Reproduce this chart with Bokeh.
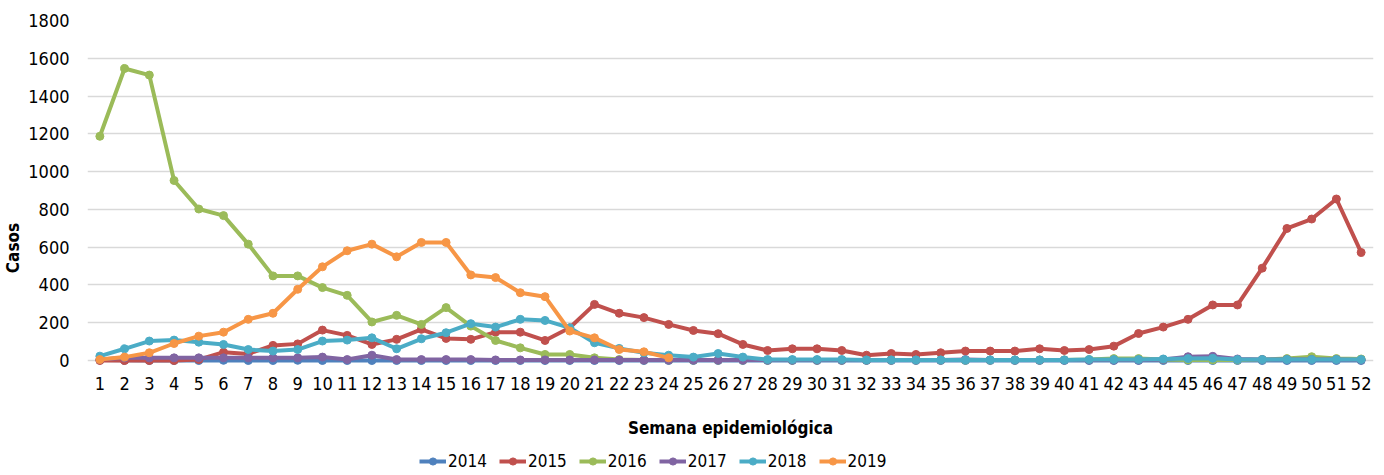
from bokeh.plotting import figure
from bokeh.models import Legend, LegendItem, FixedTicker, Range1d
from bokeh.embed import file_html
from bokeh.resources import INLINE

weeks = list(range(1, 53))

y2014 = [2, 1, 0, 0, 0, 1, 0, 0, 1, 0, 0, 0, 0, 0, 0, 0, 0, 0, 0, 0, 0, 0, 0, 0, 0, 0,
         0, 0, 0, 0, 0, 0, 0, 0, 0, 0, 0, 0, 0, 0, 0, 0, 0, 0, 0, 0, 0, 0, 0, 0, 0, 0]
y2015 = [0, 0, 0, 0, 5, 44, 35, 80, 88, 161, 133, 85, 112, 165, 117, 112, 150, 150, 106, 173,
         297, 250, 227, 191, 159, 142, 85, 53, 62, 62, 53, 28, 37, 32, 41, 50, 50, 50, 62, 53,
         58, 76, 143, 177, 218, 294, 294, 489, 699, 749, 855, 572]
y2016 = [1187, 1546, 1511, 953, 802, 767, 616, 448, 448, 386, 345, 204, 239, 191, 280, 182,
         106, 67, 32, 32, 14, 5, 3, 3, 2, 2, 2, 2, 2, 2, 2, 2, 2, 2, 2, 2, 2, 2, 2, 3,
         5, 10, 10, 5, 3, 3, 3, 5, 10, 20, 10, 8]
y2017 = [5, 14, 14, 14, 14, 14, 14, 14, 14, 18, 5, 28, 5, 5, 5, 5, 3, 3, 3, 3, 3, 2, 2, 2, 2, 2,
         2, 2, 2, 2, 2, 2, 2, 2, 2, 5, 3, 2, 2, 2, 2, 2, 2, 5, 20, 22, 8, 5, 5, 5, 5, 3]
y2018 = [23, 62, 103, 108, 97, 85, 58, 50, 58, 103, 108, 120, 62, 115, 147, 195, 177, 218,
         212, 173, 94, 64, 41, 28, 18, 37, 18, 5, 5, 5, 5, 3, 3, 3, 3, 3, 3, 3, 3, 3,
         5, 5, 5, 8, 10, 12, 5, 5, 5, 5, 5, 5]
y2019 = [5, 18, 41, 90, 129, 150, 218, 250, 377, 496, 581, 616, 549, 625, 625, 453, 439,
         359, 338, 156, 120, 58, 46, 14]

series = [
    ("2014", y2014, "#4F81BD"),
    ("2015", y2015, "#C0504D"),
    ("2016", y2016, "#9BBB59"),
    ("2017", y2017, "#8064A2"),
    ("2018", y2018, "#4BACC6"),
    ("2019", y2019, "#F79646"),
]
y_ticks = list(range(0, 2000, 200))

FONT = "DejaVu Sans Condensed, sans-serif"

# frame extends below the zero line so the x axis and legend sit inside it
PLOT_H = 340
EXTRA_H = 115
y_top = 1800
y_bottom = -y_top * EXTRA_H / PLOT_H

p = figure(frame_width=1286, frame_height=PLOT_H + EXTRA_H,
           output_backend="svg", toolbar_location=None,
           x_range=Range1d(0.5, 52.5), y_range=Range1d(y_bottom, y_top),
           min_border_left=86, min_border_right=12, min_border_top=20,
           min_border_bottom=0)
p.outline_line_color = None
p.background_fill_color = "white"

p.xgrid.grid_line_color = None
p.ygrid.grid_line_color = "#D9D9D9"
p.ygrid.grid_line_width = 1.5
p.ygrid.ticker = FixedTicker(ticks=y_ticks)

p.yaxis.ticker = FixedTicker(ticks=y_ticks)
p.xaxis.ticker = FixedTicker(ticks=weeks)
p.xaxis.fixed_location = 0
for ax in (p.xaxis[0], p.yaxis[0]):
    ax.axis_line_color = None
    ax.major_tick_line_color = None
    ax.minor_tick_line_color = None
    ax.major_label_text_font = FONT
    ax.major_label_text_font_size = "18px"
    ax.major_label_text_color = "#000000"
    ax.axis_label_text_font = FONT
    ax.axis_label_text_font_size = "17px"
    ax.axis_label_text_font_style = "bold"
    ax.axis_label_text_color = "#000000"
p.xaxis.major_label_standoff = 10
p.yaxis.major_label_standoff = 12
p.xaxis.axis_label = "Semana epidemiológica"
p.yaxis.axis_label = "Casos"
p.xaxis.axis_label_standoff = 25
p.yaxis.axis_label_standoff = 2

items = []
for name, vals, col in series:
    xs = weeks[:len(vals)]
    r1 = p.line(xs, vals, line_color=col, line_width=4)
    r2 = p.scatter(xs, vals, size=8, fill_color=col, line_color=col)
    items.append(LegendItem(label=name, renderers=[r1, r2]))

legend = Legend(items=items, orientation="horizontal", location=(332, 4),
                label_text_font=FONT, label_text_font_size="17px",
                label_text_color="#000000", label_height=18, glyph_height=18,
                border_line_color=None, background_fill_alpha=0,
                glyph_width=27, spacing=12, padding=0, margin=0,
                label_standoff=2)
p.add_layout(legend, "center")

open("out.html", "w").write(file_html(p, INLINE))
